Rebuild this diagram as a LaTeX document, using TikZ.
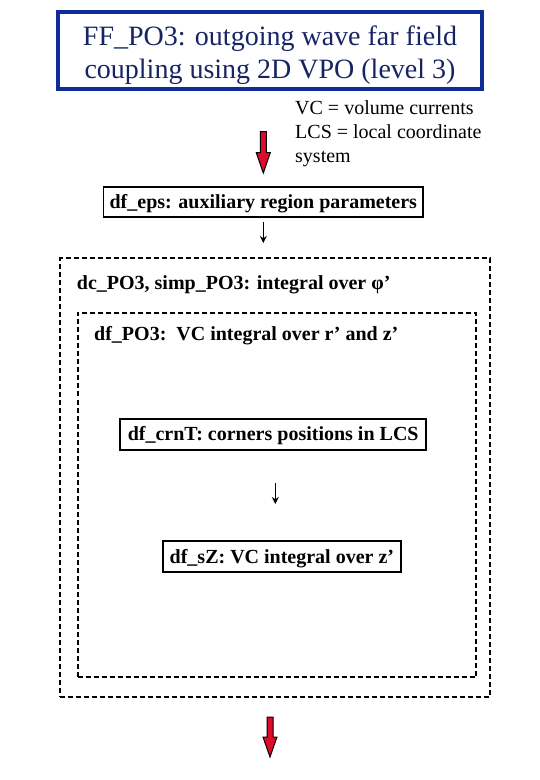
\documentclass[tikz,border=0pt]{standalone}
\usepackage{fontspec}
\setmainfont{Liberation Serif}
\usetikzlibrary{arrows.meta,calc}
\definecolor{titleblue}{RGB}{16,44,150}
\definecolor{titletext}{RGB}{22,36,100}
\definecolor{arrowred}{RGB}{222,12,42}
\tikzset{
  titlebox/.style={draw=titleblue, line width=4bp, minimum width=424bp, minimum height=77bp, inner sep=0pt},
  titlelabel/.style={text=titletext, align=center, inner sep=0pt, font=\fontsize{28bp}{33bp}\selectfont},
  notelabel/.style={align=left, inner sep=0pt, anchor=north west, font=\fontsize{20bp}{24bp}\selectfont},
  funcbox/.style={draw, line width=1.8bp, inner sep=0pt, text height=14bp, text depth=1bp, font=\fontsize{20bp}{24bp}\selectfont\bfseries},
  groupbox/.style={draw, line width=1.8bp, dash pattern=on 5bp off 3bp, inner sep=0pt},
  grouplabel/.style={anchor=base west, inner sep=0pt, font=\fontsize{20bp}{24bp}\selectfont\bfseries},
  smallarrow/.style={line width=1.5bp, -{Stealth[length=7bp,width=7bp]}},
  redarrow/.style={fill=arrowred, draw=black, line width=1bp, line join=miter},
}
\begin{document}
\begin{tikzpicture}[x=1bp, y=-1bp]
\useasboundingbox (0,0) rectangle (540,780);
% title
\node[titlebox] (title) at (270,50.7) {};
\node[titlelabel] (titletxt) at (270,54.7) {FF\_PO3: outgoing wave far field\\coupling using 2D VPO (level 3)};
% note
\node[notelabel] (note) at (295,100.5) {VC = volume currents\\LCS = local coordinate\\system};
% red arrow 1
\coordinate (ra) at (263.3,131.7);
\draw[redarrow] ($(ra)+(-3,0)$) -- ($(ra)+(3,0)$) -- ($(ra)+(3,21)$) -- ($(ra)+(7,21)$) -- ($(ra)+(0,41.3)$) -- ($(ra)+(-7,21)$) -- ($(ra)+(-3,21)$) -- cycle;
% df_eps
\node[funcbox, minimum width=319.5bp, minimum height=30bp] (eps) at (263.3,202) {df\_eps: auxiliary region parameters};
% outer group
\node[groupbox, minimum width=429.7bp, minimum height=439bp] (outer) at (275.2,477.8) {};
\node[grouplabel] (outerlbl) at (76.7,289) {dc\_PO3, simp\_PO3: integral over φ’};
\coordinate (a1s) at (263.3,222);
\coordinate (a1e) at (263.3,243);
\draw[smallarrow] (a1s) -- (a1e);
% inner group
\node[groupbox, minimum width=398.3bp, minimum height=364.6bp] (inner) at (276.9,495) {};
\node[grouplabel] (innerlbl) at (94,340) {df\_PO3:\ \ VC integral over r’ and z’};
% df_crnT
\node[funcbox, minimum width=305.7bp, minimum height=31.3bp] (crn) at (273.2,434.4) {df\_crnT: corners positions in LCS};
% df_sZ
\node[funcbox, minimum width=238.3bp, minimum height=31bp] (sz) at (281.9,556.5) {df\_sZ: VC integral over z’};
\coordinate (a2s) at (275.3,483);
\coordinate (a2e) at (275.3,504);
\draw[smallarrow] (a2s) -- (a2e);
% red arrow 2
\coordinate (rb) at (270,717);
\draw[redarrow] ($(rb)+(-3,0)$) -- ($(rb)+(3,0)$) -- ($(rb)+(3,20)$) -- ($(rb)+(7,20)$) -- ($(rb)+(0,40)$) -- ($(rb)+(-7,20)$) -- ($(rb)+(-3,20)$) -- cycle;
\end{tikzpicture}
\end{document}
